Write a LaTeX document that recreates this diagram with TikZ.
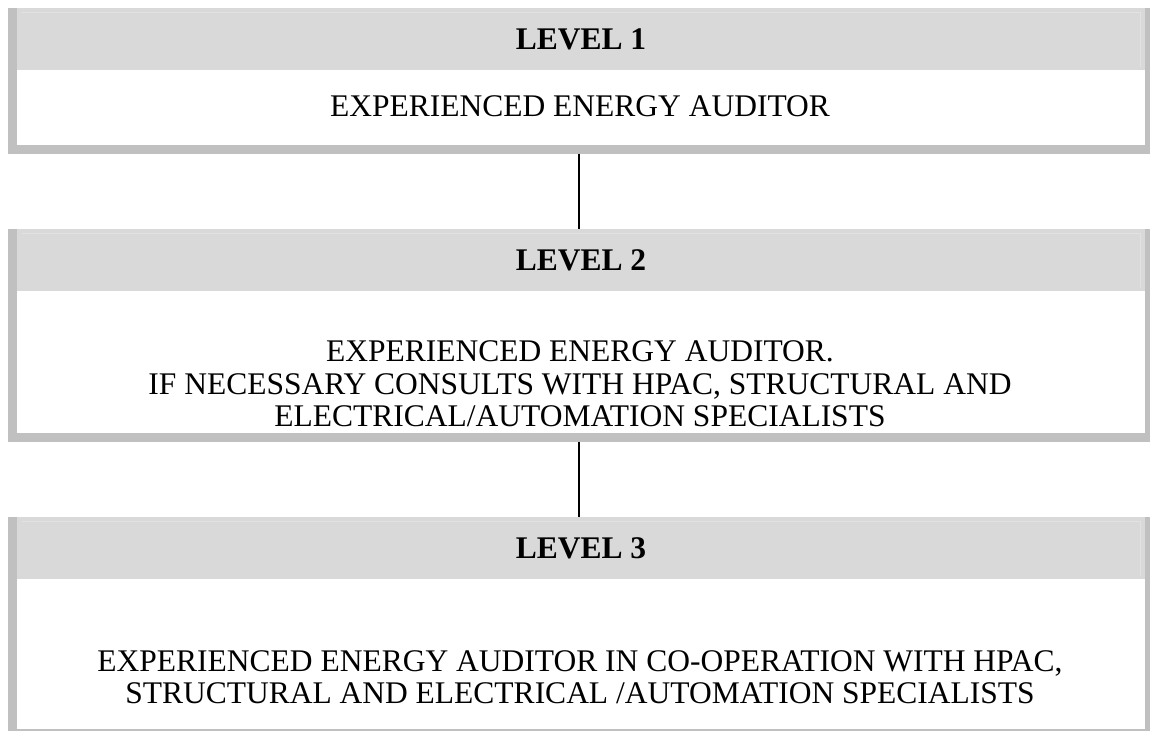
\documentclass[tikz,border=0pt]{standalone}
\usepackage{fontspec}
\setmainfont{Liberation Serif}
\definecolor{bordergray}{HTML}{C0C0C0}
\definecolor{headgray}{HTML}{D9D9D9}
\definecolor{headline}{HTML}{E2E2E2}
\tikzset{
  frame/.style={rectangle, fill=bordergray, inner sep=0pt, outer sep=0pt, anchor=north west},
  inner/.style={rectangle, fill=white, inner sep=0pt, outer sep=0pt, anchor=north west},
  head/.style={rectangle, fill=headgray, inner sep=0pt, outer sep=0pt, anchor=north west,
    font=\fontsize{31.5}{36}\selectfont\bfseries},
  bodytext/.style={align=center, inner sep=0pt, font=\fontsize{31.5}{32.5}\selectfont},
  link/.style={line width=2.5pt, black}
}
\begin{document}
\begin{tikzpicture}[x=1pt,y=1pt]
\useasboundingbox (0,0) rectangle (1150,-731);
% Box 1
\node[frame, minimum width=1142, minimum height=146] (b1) at (8,-8) {};
\node[inner, minimum width=1128, minimum height=137] (i1) at (17,-8) {};
\node[head, minimum width=1128, minimum height=62] (h1) at (17,-8) {LEVEL 1};
\draw[headline, line width=1pt] (22,-12.5) -- (1140,-12.5) -- (1140,-67);
\node[bodytext] (t1) at (580,-106) {EXPERIENCED ENERGY AUDITOR};
% Box 2
\node[frame, minimum width=1142, minimum height=213] (b2) at (8,-229) {};
\node[inner, minimum width=1128, minimum height=204] (i2) at (17,-229) {};
\node[head, minimum width=1128, minimum height=62] (h2) at (17,-229) {LEVEL 2};
\draw[headline, line width=1pt] (22,-233.5) -- (1140,-233.5) -- (1140,-288);
\node[bodytext] (t2) at (580,-384) {EXPERIENCED ENERGY AUDITOR.\\IF NECESSARY CONSULTS WITH HPAC, STRUCTURAL AND\\ELECTRICAL/AUTOMATION SPECIALISTS};
% Box 3
\node[frame, minimum width=1142, minimum height=214] (b3) at (8,-517) {};
\node[inner, minimum width=1128, minimum height=212] (i3) at (17,-517) {};
\node[head, minimum width=1128, minimum height=62] (h3) at (17,-517) {LEVEL 3};
\draw[headline, line width=1pt] (22,-521.5) -- (1140,-521.5) -- (1140,-576);
\node[bodytext] (t3) at (580,-677) {EXPERIENCED ENERGY AUDITOR IN CO-OPERATION WITH HPAC,\\STRUCTURAL AND ELECTRICAL /AUTOMATION SPECIALISTS};
% Connectors
\draw[link] (b1.south) -- (b2.north);
\draw[link] (b2.south) -- (b3.north);
\end{tikzpicture}
\end{document}
